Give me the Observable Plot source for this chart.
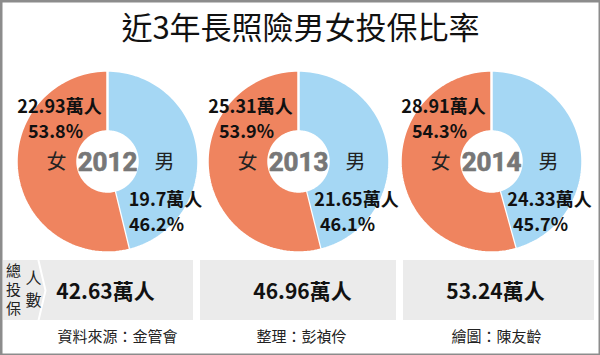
<!DOCTYPE html>
<html>
<head>
<meta charset="utf-8">
<script src="https://cdn.jsdelivr.net/npm/d3@7"></script>
<script src="https://cdn.jsdelivr.net/npm/@observablehq/plot@0.6"></script>
<style>
  html, body { margin: 0; padding: 0; background: #fff; }
  #chart svg { display: block; }
</style>
</head>
<body>
<div id="chart"></div>
<script>
// ---- data ----
const title = "近3年長照險男女投保比率";
const years = ["2012", "2013", "2014"];
const femaleCount = [22.93, 25.31, 28.91];   // 萬人
const maleCount = [19.7, 21.65, 24.33];      // 萬人
const femalePct = [53.8, 53.9, 54.3];
const malePct = [46.2, 46.1, 45.7];
const totals = [42.63, 46.96, 53.24];        // 萬人
const credits = ["資料來源：金管會", "整理：彭禎伶", "繪圖：陳友齡"];
const totalLabelA = ["總", "投", "保"];
const totalLabelB = ["人", "數"];

// ---- layout ----
const W = 600, H = 355;
const cxs = [107, 298, 491];
const cy = 161, R = 91, R0 = 30;
const panels = [[3, 193], [200, 396], [403, 594]];
const panelY = [260, 320];
const FEMALE = "#EF845F", MALE = "#A5D7F4";

function slice(i, a0, a1, key) {
  const pts = [];
  const n = 90;
  for (let k = 0; k <= n; k++) {
    const a = a0 + (a1 - a0) * k / n;
    pts.push({key, x: cxs[i] + R * Math.sin(a), y: cy - R * Math.cos(a)});
  }
  for (let k = n; k >= 0; k--) {
    const a = a0 + (a1 - a0) * k / n;
    pts.push({key, x: cxs[i] + R0 * Math.sin(a), y: cy - R0 * Math.cos(a)});
  }
  return pts;
}

const maleSlices = years.flatMap((y, i) => slice(i, 0, 2 * Math.PI * malePct[i] / 100, y));
const femaleSlices = years.flatMap((y, i) => slice(i, 2 * Math.PI * malePct[i] / 100, 2 * Math.PI, y));

const rows = years.map((y, i) => ({
  i, year: y, cx: cxs[i],
  fc: femaleCount[i] + "萬人", fp: femalePct[i] + "%",
  mc: maleCount[i] + "萬人", mp: malePct[i] + "%",
  total: totals[i] + "萬人", credit: credits[i]
}));

const panelRows = panels.map(([a, b]) => ({x1: a, x2: b, y1: panelY[0], y2: panelY[1]}));
const chevron = [
  {x: 38, y: panelY[0]}, {x: 45, y: (panelY[0] + panelY[1]) / 2}, {x: 38, y: panelY[1]}
];

const font = "'Noto Sans CJK TC', 'Noto Sans', sans-serif";
const numFont = "Roboto, 'DejaVu Sans', sans-serif";

const chart = Plot.plot({
  width: W, height: H,
  margin: 0,
  x: {axis: null, domain: [0, W], range: [0, W]},
  y: {axis: null, domain: [0, H], range: [0, H]},
  style: {fontFamily: font, background: "#fff", overflow: "visible"},
  marks: [
    // title
    Plot.text([title], {x: () => W / 2, y: () => 29, text: d => d, fontSize: 31, fontWeight: 400, fill: "#111"}),
    // donuts
    Plot.line(maleSlices, {x: "x", y: "y", z: "key", fill: MALE, stroke: "#fff", strokeWidth: 2.5, curve: "linear"}),
    Plot.line(femaleSlices, {x: "x", y: "y", z: "key", fill: FEMALE, stroke: "#fff", strokeWidth: 2.5, curve: "linear"}),
    // year in hole
    Plot.text(rows, {x: "cx", y: () => cy + 1, text: "year", fontSize: 26, fontWeight: 700, fontFamily: numFont, fill: "#777", stroke: "#777", strokeWidth: 0.7}),
    // 女 / 男
    Plot.text(rows, {x: d => d.cx - 51, y: () => cy + 1, text: () => "女", fontSize: 20, fill: "#222"}),
    Plot.text(rows, {x: d => d.cx + 57, y: () => cy + 1, text: () => "男", fontSize: 20, fill: "#222"}),
    // female labels
    Plot.text(rows, {x: d => d.cx - 48, y: () => 107, text: "fc", fontSize: 18, fontWeight: "bold", fill: "#111"}),
    Plot.text(rows, {x: d => d.cx - 52, y: () => 132, text: "fp", fontSize: 18, fontWeight: "bold", fill: "#111"}),
    // male labels
    Plot.text(rows, {x: d => d.cx + 58, y: () => 200, text: "mc", fontSize: 18, fontWeight: "bold", fill: "#111"}),
    Plot.text(rows, {x: d => d.cx + 49, y: () => 225, text: "mp", fontSize: 18, fontWeight: "bold", fill: "#111"}),
    // bottom panels
    Plot.rect(panelRows, {x1: "x1", x2: "x2", y1: "y1", y2: "y2", fill: "#ebebeb"}),
    Plot.line(chevron, {x: "x", y: "y", stroke: "#fff", strokeWidth: 2}),
    Plot.text(totalLabelA, {x: () => 13, y: (d, i) => 271 + i * 19, text: d => d, fontSize: 15, fill: "#222"}),
    Plot.text(totalLabelB, {x: () => 33, y: (d, i) => 278 + i * 22, text: d => d, fontSize: 16, fill: "#222"}),
    Plot.text(rows, {x: d => [105, 302, 495][d.i], y: () => 292, text: "total", fontSize: 21, fontWeight: "bold", fill: "#111", letterSpacing: -0.5}),
    // credits
    Plot.text(rows, {x: d => [117, 301, 496][d.i], y: () => 337, text: "credit", fontSize: 15, fill: "#222"}),
    // outer border
    Plot.frame({stroke: "#8c8c8c", strokeWidth: 4})
  ]
});
document.getElementById("chart").appendChild(chart);
</script>
</body>
</html>
